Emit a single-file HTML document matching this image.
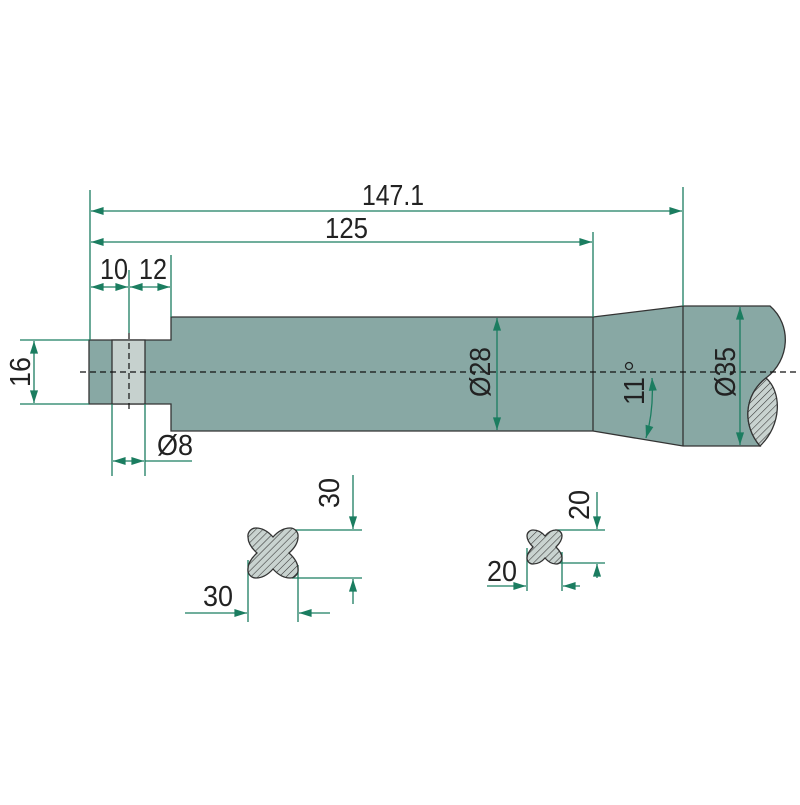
<!DOCTYPE html>
<html><head><meta charset="utf-8"><style>html,body{margin:0;padding:0;background:#fff}</style></head>
<body>
<svg width="800" height="800" viewBox="0 0 800 800" xmlns="http://www.w3.org/2000/svg">
<defs>
<pattern id="h" width="5" height="5" patternUnits="userSpaceOnUse" patternTransform="rotate(45)">
<rect width="5" height="5" fill="#c9d3d0"/><line x1="0" y1="0" x2="0" y2="5" stroke="#333" stroke-width="1.1"/>
</pattern>
<marker id="a" viewBox="0 0 14 10" refX="14" refY="5" markerWidth="15" markerHeight="9" markerUnits="userSpaceOnUse" orient="auto-start-reverse"><path d="M0,0.5 L14,5 L0,9.5 Z" fill="#1b7d60"/></marker>
</defs>
<g font-family="Liberation Sans, sans-serif" font-size="29" fill="#222">
<g stroke="#333" stroke-width="1.3">
<path d="M171,317 L593,317 L683,306 L770,306 C792,325 790,360 766,378 C744,395 742,425 760,446 L683,446 L593,431 L171,431 L171,404 L89,404 L89,340 L171,340 Z" fill="#88a8a4"/>
<rect x="112" y="340" width="33" height="64" fill="#c6d1ce"/>
<path d="M766,378 C744,395 742,425 760,446 C782,425 782,392 766,378 Z" fill="url(#h)"/>
<line x1="593" y1="317" x2="593" y2="431"/>
<line x1="683" y1="306" x2="683" y2="446"/>
</g>
<g stroke="#111" stroke-width="1.2" stroke-dasharray="6,4" fill="none">
<line x1="80" y1="372" x2="800" y2="372"/>
<line x1="129" y1="333" x2="129" y2="412"/>
</g>
<g stroke="#1b7d60" stroke-width="1.3" fill="none">
<line x1="90" y1="190" x2="90" y2="340"/>
<line x1="683" y1="187" x2="683" y2="306"/>
<line x1="593" y1="232" x2="593" y2="317"/>
<line x1="91" y1="211" x2="682" y2="211" marker-start="url(#a)" marker-end="url(#a)"/>
<line x1="91" y1="242" x2="592" y2="242" marker-start="url(#a)" marker-end="url(#a)"/>
<line x1="129" y1="270" x2="129" y2="333"/>
<line x1="171" y1="255" x2="171" y2="317"/>
<line x1="91" y1="287" x2="128" y2="287" marker-start="url(#a)" marker-end="url(#a)"/>
<line x1="130" y1="287" x2="170" y2="287" marker-start="url(#a)" marker-end="url(#a)"/>
<line x1="20" y1="340" x2="89" y2="340"/>
<line x1="20" y1="404" x2="89" y2="404"/>
<line x1="34" y1="341" x2="34" y2="403" marker-start="url(#a)" marker-end="url(#a)"/>
<line x1="112" y1="404" x2="112" y2="476"/>
<line x1="145" y1="404" x2="145" y2="476"/>
<line x1="113" y1="461" x2="144" y2="461" marker-start="url(#a)" marker-end="url(#a)"/>
<line x1="145" y1="461" x2="192" y2="461"/>
<line x1="497" y1="318" x2="497" y2="430" marker-start="url(#a)" marker-end="url(#a)"/>
<line x1="740" y1="307" x2="740" y2="445" marker-start="url(#a)" marker-end="url(#a)"/>
<path d="M652,378 Q654,410 646,438" marker-start="url(#a)" marker-end="url(#a)"/>
<line x1="290" y1="530" x2="362" y2="530"/>
<line x1="292" y1="578" x2="362" y2="578"/>
<line x1="353" y1="475" x2="353" y2="529" marker-end="url(#a)"/>
<line x1="353" y1="604" x2="353" y2="579" marker-end="url(#a)"/>
<line x1="248" y1="560" x2="248" y2="622"/>
<line x1="298" y1="565" x2="298" y2="622"/>
<line x1="185" y1="613" x2="247" y2="613" marker-end="url(#a)"/>
<line x1="330" y1="613" x2="299" y2="613" marker-end="url(#a)"/>
<line x1="555" y1="530" x2="605" y2="530"/>
<line x1="557" y1="563" x2="605" y2="563"/>
<line x1="597" y1="492" x2="597" y2="529" marker-end="url(#a)"/>
<line x1="597" y1="578" x2="597" y2="564" marker-end="url(#a)"/>
<line x1="527" y1="548" x2="527" y2="591"/>
<line x1="562" y1="552" x2="562" y2="591"/>
<line x1="487" y1="586" x2="526" y2="586" marker-end="url(#a)"/>
<line x1="580" y1="586" x2="563" y2="586" marker-end="url(#a)"/>
</g>
<circle cx="629" cy="366" r="3.5" fill="none" stroke="#222" stroke-width="1.3"/>
<path d="M273,537 Q281,528 290,528 A8,8 0 0 1 298,537 Q298,545 289,553 Q298,561 298,569 A8,8 0 0 1 290,578 Q281,578 273,569 Q265,578 256,578 A8,8 0 0 1 248,569 Q248,561 257,553 Q248,545 248,537 A8,8 0 0 1 256,528 Q265,528 273,537 Z" fill="url(#h)" stroke="#333" stroke-width="1.3"/>
<path d="M545,536 Q550,530 556,530 A6,6 0 0 1 562,536 Q562,541 556,547 Q562,553 562,558 A6,6 0 0 1 556,564 Q550,564 545,558 Q540,564 533,564 A6,6 0 0 1 527,558 Q527,553 533,547 Q527,541 527,536 A6,6 0 0 1 533,530 Q540,530 545,536 Z" fill="url(#h)" stroke="#333" stroke-width="1.3"/>
<text x="362" y="205" textLength="62" lengthAdjust="spacingAndGlyphs">147.1</text>
<text x="325" y="238" textLength="43" lengthAdjust="spacingAndGlyphs">125</text>
<text x="100" y="279" textLength="28" lengthAdjust="spacingAndGlyphs">10</text>
<text x="139" y="279" textLength="28" lengthAdjust="spacingAndGlyphs">12</text>
<text transform="translate(30,372) rotate(-90)" text-anchor="middle" textLength="30" lengthAdjust="spacingAndGlyphs">16</text>
<text x="157" y="455" textLength="36" lengthAdjust="spacingAndGlyphs">Ø8</text>
<text transform="translate(490,372) rotate(-90)" text-anchor="middle" textLength="50" lengthAdjust="spacingAndGlyphs">Ø28</text>
<text transform="translate(735,372) rotate(-90)" text-anchor="middle" textLength="50" lengthAdjust="spacingAndGlyphs">Ø35</text>
<text transform="translate(644,391) rotate(-90)" text-anchor="middle" textLength="28" lengthAdjust="spacingAndGlyphs">11</text>
<text transform="translate(339,493) rotate(-90)" text-anchor="middle" textLength="30" lengthAdjust="spacingAndGlyphs">30</text>
<text x="203" y="606" textLength="30" lengthAdjust="spacingAndGlyphs">30</text>
<text transform="translate(589,505) rotate(-90)" text-anchor="middle" textLength="30" lengthAdjust="spacingAndGlyphs">20</text>
<text x="487" y="581" textLength="30" lengthAdjust="spacingAndGlyphs">20</text>
</g>
</svg>
</body></html>
